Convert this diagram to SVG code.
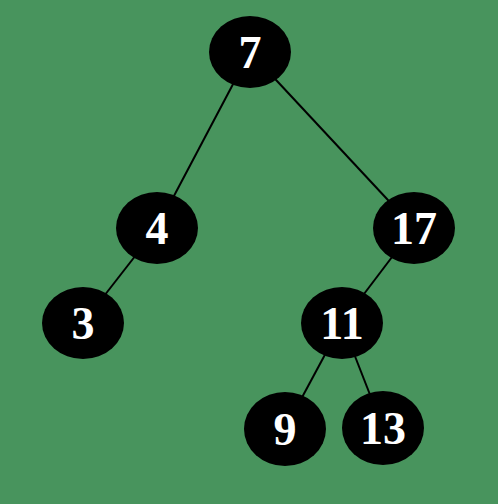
<svg xmlns="http://www.w3.org/2000/svg" width="498" height="504" viewBox="0 0 498 504">
<style>
.n ellipse{fill:#000}
.n text{fill:#fff;font-family:"Liberation Serif","DejaVu Serif",serif;font-size:46px;font-weight:bold;text-anchor:middle;dominant-baseline:central}
#edges line{stroke:#000;stroke-width:2}
</style>
<rect width="498" height="504" fill="#48945d"/>
<g id="edges">
<line x1="250" y1="52" x2="157" y2="228"/>
<line x1="250" y1="52" x2="414" y2="228"/>
<line x1="157" y1="228" x2="83" y2="323"/>
<line x1="414" y1="228" x2="342" y2="323"/>
<line x1="342" y1="323" x2="285" y2="429"/>
<line x1="342" y1="323" x2="383" y2="428"/>
</g>
<g id="n7" class="n"><ellipse cx="250" cy="52" rx="41" ry="36"/><text x="250" y="52">7</text></g>
<g id="n4" class="n"><ellipse cx="157" cy="228" rx="41" ry="36"/><text x="157" y="228">4</text></g>
<g id="n17" class="n"><ellipse cx="414" cy="228" rx="41" ry="36"/><text x="414" y="228">17</text></g>
<g id="n3" class="n"><ellipse cx="83" cy="323" rx="41" ry="36"/><text x="83" y="323">3</text></g>
<g id="n11" class="n"><ellipse cx="342" cy="323" rx="41" ry="36"/><text x="342" y="323">11</text></g>
<g id="n9" class="n"><ellipse cx="285" cy="429" rx="41" ry="37"/><text x="285" y="429">9</text></g>
<g id="n13" class="n"><ellipse cx="383" cy="428" rx="41" ry="37"/><text x="383" y="428">13</text></g>
</svg>
